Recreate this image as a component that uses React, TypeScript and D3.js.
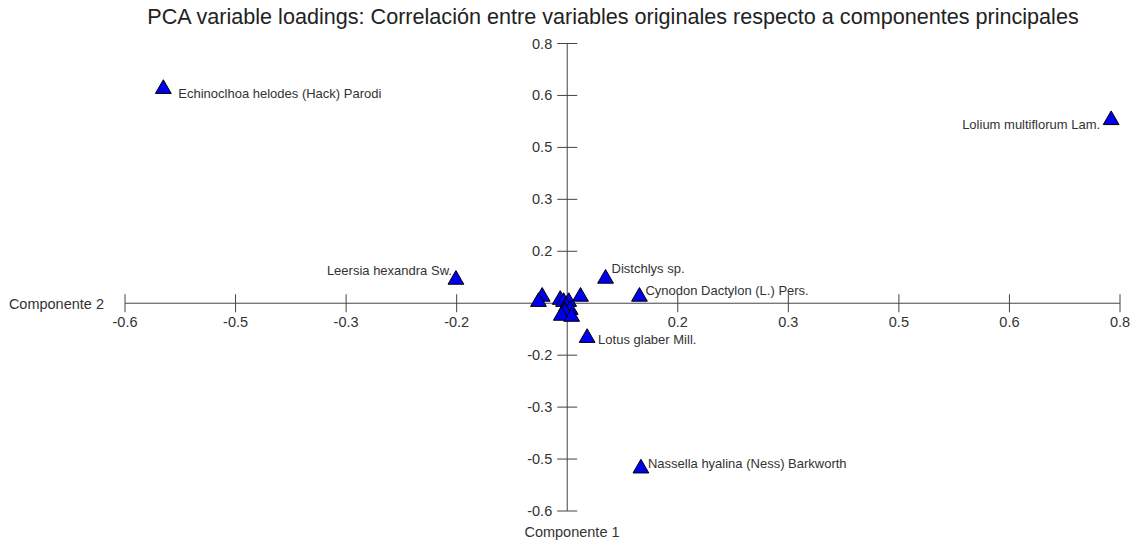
import React from "react";
import * as d3 from "d3";

const W = 1135;
const H = 541;

const titleText =
  "PCA variable loadings: Correlación entre variables originales respecto a componentes principales";
const xAxisTitle = "Componente 2";
const yAxisTitle = "Componente 1";

// tick values (step 0.15) and the labels shown (rounded to one decimal)
const xTickValues = [-0.6, -0.45, -0.3, -0.15, 0.15, 0.3, 0.45, 0.6, 0.75];
const xTickLabels = ["-0.6", "-0.5", "-0.3", "-0.2", "0.2", "0.3", "0.5", "0.6", "0.8"];
const yTickValues = [0.75, 0.6, 0.45, 0.3, 0.15, -0.15, -0.3, -0.45, -0.6];
const yTickLabels = ["0.8", "0.6", "0.5", "0.3", "0.2", "-0.2", "-0.3", "-0.5", "-0.6"];

// variable loadings
const names = [
  "Echinoclhoa helodes (Hack) Parodi",
  "Lolium multiflorum Lam.",
  "Leersia hexandra Sw.",
  "Distchlys sp.",
  "Cynodon Dactylon (L.) Pers.",
  "Lotus glaber Mill.",
  "Nassella hyalina (Ness) Barkworth",
  "", "", "", "", "", "", "", "", "", "", "",
];
const loadX = [
  -0.548, 0.738, -0.151, 0.052, 0.098, 0.027, 0.1,
  -0.034, -0.039, -0.0095, -0.005, 0.002, 0.018, -0.001, 0.004, -0.003, -0.008, 0.006,
];
const loadY = [
  0.619, 0.529, 0.068, 0.071, 0.019, -0.1, -0.477,
  0.019, 0.004, 0.01, 0.004, 0.004, 0.019, -0.01, -0.019, -0.025, -0.036, -0.039,
];
// label placement (anchor, dx, dy) for labelled points
const labelAnchor = ["start", "end", "end", "start", "start", "start", "start"];
const labelDx = [15, -11, -4, 6, 6, 11, 7];
const labelDy = [9.5, 9, -5, -6, -2, 6, 0];

export default function App() {
  const x = d3.scaleLinear().domain([-0.6, 0.75]).range([125, 1120]);
  const y = d3.scaleLinear().domain([-0.6, 0.75]).range([511, 43.5]);
  const x0 = x(0);
  const y0 = y(0);
  const tri = d3.symbol(d3.symbolTriangle, 108)() as string;
  const axisColor = "#444";
  const textColor = "#333";
  const font = "Liberation Sans, Arial, sans-serif";

  const pts = loadX.map((v, i) => ({ x: v, y: loadY[i], name: names[i], i }));

  return (
    <svg
      width={W}
      height={H}
      style={{ position: "absolute", left: 0, top: 0, background: "#fff" }}
      fontFamily={font}
    >
      <text x={613} y={24} textAnchor="middle" fontSize={21.6} fill="#222">
        {titleText}
      </text>

      {/* x axis */}
      <line x1={x(-0.6)} x2={x(0.75)} y1={y0} y2={y0} stroke={axisColor} strokeWidth={1} />
      {xTickValues.map((v, i) => (
        <g key={"xt" + i}>
          <line x1={x(v)} x2={x(v)} y1={y0 - 9} y2={y0 + 9} stroke={axisColor} />
          <text x={x(v)} y={y0 + 24} textAnchor="middle" fontSize={14.5} fill={textColor}>
            {xTickLabels[i]}
          </text>
        </g>
      ))}
      <text x={104} y={y0 + 6} textAnchor="end" fontSize={14.5} fill={textColor}>
        {xAxisTitle}
      </text>

      {/* y axis */}
      <line x1={x0} x2={x0} y1={y(0.75)} y2={y(-0.6)} stroke={axisColor} strokeWidth={1} />
      {yTickValues.map((v, i) => (
        <g key={"yt" + i}>
          <line x1={x0 - 10} x2={x0 + 10} y1={y(v)} y2={y(v)} stroke={axisColor} />
          <text x={x0 - 15} y={y(v) + 5} textAnchor="end" fontSize={14.5} fill={textColor}>
            {yTickLabels[i]}
          </text>
        </g>
      ))}
      <text x={572} y={537} textAnchor="middle" fontSize={14.5} fill={textColor}>
        {yAxisTitle}
      </text>

      {/* points */}
      {pts.map((p) => (
        <path
          key={"p" + p.i}
          d={tri}
          transform={`translate(${x(p.x)},${y(p.y)})`}
          fill="#0000ee"
          stroke="#000"
          strokeWidth={1}
        />
      ))}
      {pts
        .filter((p) => p.name)
        .map((p) => (
          <text
            key={"l" + p.i}
            x={x(p.x) + labelDx[p.i]}
            y={y(p.y) + labelDy[p.i]}
            textAnchor={labelAnchor[p.i] as any}
            fontSize={13}
            fill={textColor}
          >
            {p.name}
          </text>
        ))}
    </svg>
  );
}
